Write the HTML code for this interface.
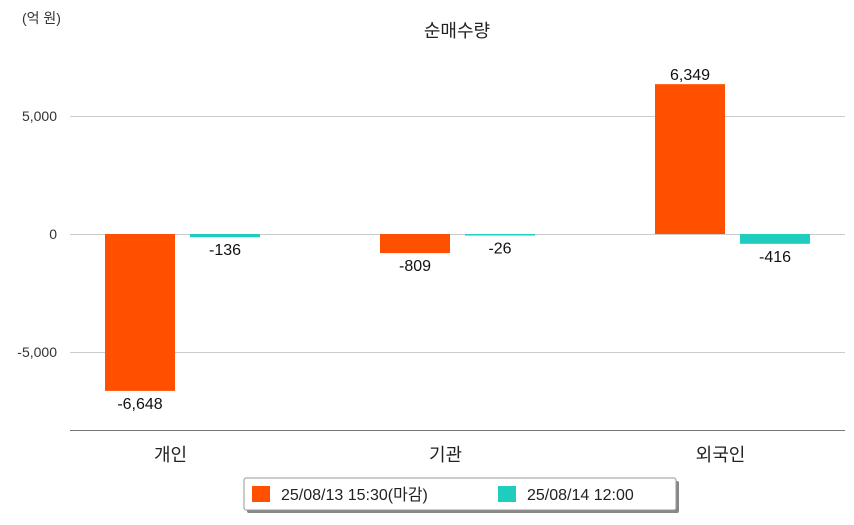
<!DOCTYPE html>
<html><head><meta charset="utf-8"><style>
body{margin:0;background:#fff;font-family:"Liberation Sans","Noto Sans CJK KR",sans-serif}
svg text{font-family:"Liberation Sans","Noto Sans CJK KR",sans-serif}
</style></head><body>
<svg id="chart" width="854" height="520" xmlns="http://www.w3.org/2000/svg">
<text x="22" y="23" font-size="14" fill="#333">(억 원)</text>
<text x="457" y="37" font-size="18" text-anchor="middle" fill="#222">순매수량</text>
<g id="grid"></g><g id="bars"></g><g id="labels"></g>
<line x1="70" y1="430.5" x2="845" y2="430.5" stroke="#777" stroke-width="1"/>
<g>
<rect x="247" y="481" width="432" height="32" fill="#888" rx="2"/>
<rect x="244" y="478" width="432" height="32" fill="#fff" stroke="#999" rx="2"/>
<rect x="252" y="486" width="18" height="16" fill="#FF5000"/>
<text x="281" y="500" font-size="16" fill="#222">25/08/13 15:30(마감)</text>
<rect x="498" y="486" width="18" height="16" fill="#1ECDBE"/>
<text x="527" y="500" font-size="16" fill="#222">25/08/14 12:00</text>
</g>
</svg>
<script>
const categories=["개인","기관","외국인"];
const series1=[-6648,-809,6349];
const series2=[-136,-26,-416];
const yTicks=[5000,0,-5000];
const tickLabels=["5,000","0","-5,000"];
const NS="http://www.w3.org/2000/svg";
const y=v=>234-v*118/5000;
const bandCenter=i=>182.5+i*275;
function mk(t,a,p){const e=document.createElementNS(NS,t);for(const k in a)e.setAttribute(k,a[k]);p.appendChild(e);return e;}
const grid=document.getElementById('grid'),bars=document.getElementById('bars'),labels=document.getElementById('labels');
yTicks.forEach((v,i)=>{
 const l=mk('line',{x1:70,x2:845,y1:y(v)+0.5,y2:y(v)+0.5,stroke:'#ccc'},grid);
 
 
 const t=mk('text',{x:57,y:y(v)+5,'text-anchor':'end','font-size':14,fill:'#333'},grid);
 
 
 t.textContent=tickLabels[i];
});
const fmt=v=>v.toLocaleString('en-US');
function drawBar(v,cx,color,name){
 const top=Math.min(y(v),y(0)),h=Math.max(Math.abs(y(v)-y(0)),1.5);
 const r=mk('rect',{x:cx-35,y:top,width:70,height:h,fill:color},bars);
 
 
 const ty=v>=0?y(v)-4:Math.max(y(v),y(0)+1.5)+18;
 const t=mk('text',{x:cx,y:ty,'text-anchor':'middle','font-size':16,fill:'#111'},labels);
 
 
 t.textContent=fmt(v);
}
categories.forEach((c,i)=>{
 const cx=bandCenter(i);
 drawBar(series1[i],cx-42.5,'#FF5000','bar-0813-'+i);
 drawBar(series2[i],cx+42.5,'#1ECDBE','bar-0814-'+i);
 const t=mk('text',{x:cx-12,y:461,'text-anchor':'middle','font-size':18,fill:'#222'},labels);
 
 
 t.textContent=c;
});
</script>
</body></html>
